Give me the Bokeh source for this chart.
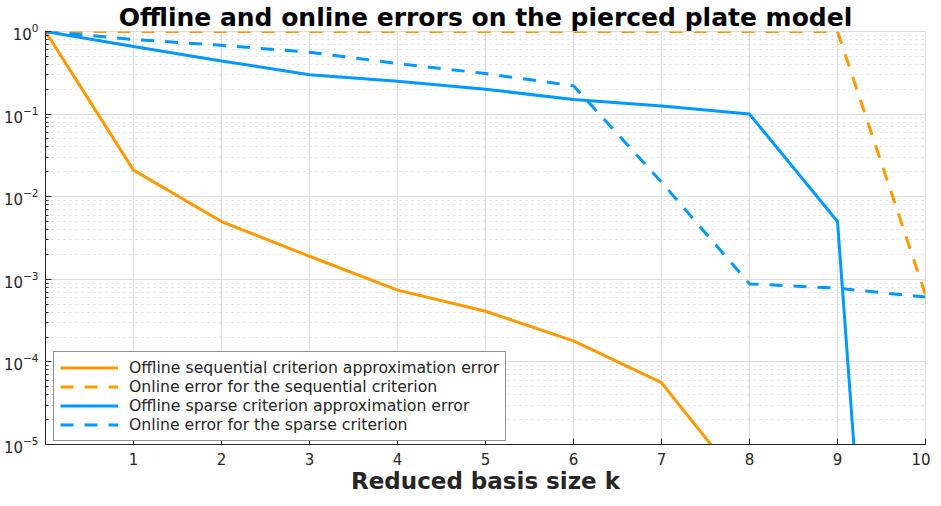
from bokeh.plotting import figure
from bokeh.models import FixedTicker, LogTicker, Legend, LegendItem, Range1d
from bokeh.embed import file_html
from bokeh.resources import INLINE

k = [0, 1, 2, 3, 4, 5, 6, 7, 8, 9, 10]
offline_seq = [1.0, 0.021, 0.0050, 0.0019, 7.4e-4, 4.1e-4, 1.8e-4, 5.6e-5, 2.6e-6, 1e-7, 1e-8]
online_seq = [1.0, 1.0, 1.0, 1.0, 1.0, 1.0, 1.0, 1.0, 1.0, 1.0, 6.5e-4]
offline_sparse = [1.0, 0.66, 0.44, 0.30, 0.25, 0.20, 0.15, 0.125, 0.10, 0.005, 1.5e-17]
online_sparse = [1.0, 0.80, 0.68, 0.56, 0.41, 0.31, 0.22, 0.015, 8.8e-4, 7.8e-4, 6.1e-4]
x_ticks = [1, 2, 3, 4, 5, 6, 7, 8, 9, 10]

ORANGE = "#FF9900"
BLUE = "#0099FF"
FONT = "DejaVu Sans"
DARK = "#262626"

p = figure(frame_width=880, frame_height=413, y_axis_type="log", output_backend="svg",
           toolbar_location=None,
           x_range=Range1d(0, 10), y_range=Range1d(1e-5, 1.0),
           title="Offline and online errors on the pierced plate model",
           min_border_left=40, min_border_right=5, min_border_bottom=50,
           min_border_top=0)

p.title.text_font = FONT
p.title.text_font_size = "25px"
p.title.text_font_style = "bold"
p.title.align = "center"
p.title.text_color = "black"
p.title.standoff = 0

r1 = p.line(k, offline_seq, line_color=ORANGE, line_width=3)
r2 = p.line(k, online_seq, line_color=ORANGE, line_width=3, line_dash="13 11")
r3 = p.line(k, offline_sparse, line_color=BLUE, line_width=3)
r4 = p.line(k, online_sparse, line_color=BLUE, line_width=3, line_dash="13 11")

p.xaxis.ticker = FixedTicker(ticks=x_ticks)
p.yaxis.ticker = LogTicker(num_minor_ticks=10)

for ax in (p.xaxis[0], p.yaxis[0]):
    ax.major_label_text_font = FONT
    ax.major_label_text_font_size = "15px"
    ax.major_label_text_color = DARK
    ax.axis_line_color = DARK
    ax.major_tick_line_color = DARK
    ax.minor_tick_line_color = DARK
    ax.major_tick_in = 6
    ax.major_tick_out = 0
    ax.minor_tick_in = 3
    ax.minor_tick_out = 0

p.xaxis.minor_tick_line_color = None
p.xaxis.major_label_standoff = 8
p.yaxis.major_label_standoff = 7

p.xaxis.axis_label = "Reduced basis size k"
p.xaxis.axis_label_text_font = FONT
p.xaxis.axis_label_text_font_size = "23px"
p.xaxis.axis_label_text_font_style = "bold"
p.xaxis.axis_label_text_color = DARK
p.xaxis.axis_label_standoff = 0

p.xgrid.grid_line_color = "#dcdcdc"
p.ygrid.grid_line_color = "#dcdcdc"
p.ygrid.minor_grid_line_color = "#dcdcdc"
p.ygrid.minor_grid_line_dash = "dotted"
p.outline_line_color = "#dcdcdc"

legend = Legend(items=[
    LegendItem(label="Offline sequential criterion approximation error", renderers=[r1]),
    LegendItem(label="Online error for the sequential criterion", renderers=[r2]),
    LegendItem(label="Offline sparse criterion approximation error", renderers=[r3]),
    LegendItem(label="Online error for the sparse criterion", renderers=[r4]),
], location=(8, 3))
legend.label_text_font = FONT
legend.label_text_font_size = "15.7px"
legend.label_text_line_height = 0.9
legend.label_text_color = DARK
legend.glyph_width = 58
legend.glyph_height = 17
legend.label_height = 17
legend.spacing = 0
legend.padding = 6
legend.margin = 0
legend.border_line_color = DARK
legend.border_line_width = 1
legend.background_fill_alpha = 1
legend.label_standoff = 11
p.add_layout(legend, "center")

open("out.html", "w").write(file_html(p, INLINE))
